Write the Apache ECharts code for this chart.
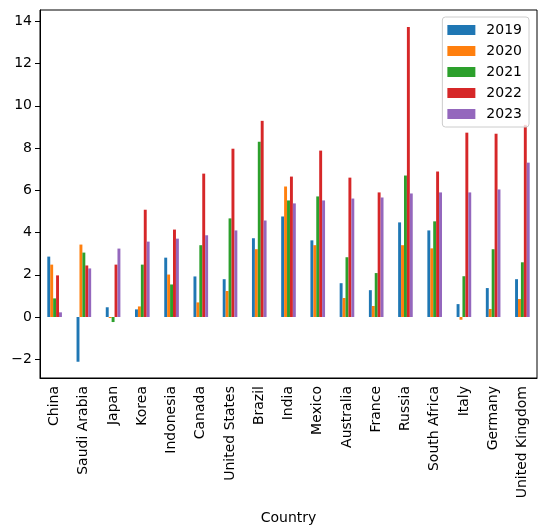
<!DOCTYPE html>
<html>
<head>
<meta charset="utf-8">
<script src="https://cdn.jsdelivr.net/npm/echarts@6/dist/echarts.min.js"></script>
<style>
  html, body { margin: 0; padding: 0; background: #fff; }
  #chart { width: 546px; height: 530px; }
</style>
</head>
<body>
<div id="chart"></div>
<script>
// inflation by country, one array per year
var countries = ['China', 'Saudi Arabia', 'Japan', 'Korea', 'Indonesia', 'Canada', 'United States',
    'Brazil', 'India', 'Mexico', 'Australia', 'France', 'Russia', 'South Africa', 'Italy',
    'Germany', 'United Kingdom'];
var years = ['2019', '2020', '2021', '2022', '2023'];

var v2019 = [2.86, -2.12, 0.46, 0.36, 2.81, 1.92, 1.79, 3.73, 4.76, 3.63, 1.60, 1.27, 4.48, 4.10, 0.61, 1.37, 1.79];
var v2020 = [2.48, 3.43, -0.05, 0.50, 2.01, 0.69, 1.23, 3.21, 6.18, 3.40, 0.90, 0.52, 3.40, 3.25, -0.13, 0.38, 0.85];
var v2021 = [0.88, 3.05, -0.24, 2.48, 1.54, 3.40, 4.67, 8.30, 5.52, 5.71, 2.83, 2.08, 6.70, 4.53, 1.93, 3.21, 2.59];
var v2022 = [1.97, 2.44, 2.48, 5.08, 4.14, 6.79, 7.97, 9.29, 6.65, 7.88, 6.60, 5.90, 13.73, 6.89, 8.73, 8.68, 9.10];
var v2023 = [0.22, 2.30, 3.24, 3.57, 3.71, 3.87, 4.10, 4.57, 5.38, 5.52, 5.61, 5.66, 5.85, 5.90, 5.90, 6.04, 7.31];

var yTicks = [-2, 0, 2, 4, 6, 8, 10, 12, 14];
var colors = ['#1f77b4', '#ff7f0e', '#2ca02c', '#d62728', '#9467bd'];

var allValues = [v2019, v2020, v2021, v2022, v2023];
var font = 'DejaVu Sans';

var myChart = echarts.init(document.getElementById('chart'));

var series = years.map(function (y, i) {
    return {
        name: y,
        type: 'bar',
        data: allValues[i],
        barWidth: '10%',
        barGap: '0%',
        itemStyle: { color: colors[i] },
        emphasis: { disabled: true }
    };
});

var option = {
    animation: false,
    textStyle: { fontFamily: font },
    grid: {
        left: 40, top: 10, right: 9, bottom: 151,
        show: true, borderColor: '#000', borderWidth: 1
    },
    legend: {
        data: years,
        orient: 'vertical',
        right: 17,
        top: 17,
        itemWidth: 28,
        itemHeight: 10,
        itemGap: 7,
        padding: [6, 7, 6, 5],
        backgroundColor: 'rgba(255,255,255,0.8)',
        borderColor: '#cccccc',
        borderWidth: 1,
        borderRadius: 3,
        icon: 'rect',
        textStyle: { fontSize: 14, color: '#000', fontFamily: font, padding: [0, 0, 0, 6] }
    },
    xAxis: {
        type: 'category',
        data: countries,
        name: 'Country',
        nameLocation: 'middle',
        nameGap: 133,
        nameTextStyle: { fontSize: 14, color: '#000', fontFamily: font },
        axisLine: { onZero: false, lineStyle: { color: '#000' } },
        axisTick: { alignWithLabel: true, length: 5, lineStyle: { color: '#000' } },
        axisLabel: { rotate: 90, fontSize: 14, color: '#000', interval: 0, margin: 8, fontFamily: font },
        splitLine: { show: false }
    },
    yAxis: {
        type: 'value',
        min: -2.89,
        max: 14.54,
        axisLine: { show: true, lineStyle: { color: '#000' } },
        axisTick: { show: true, length: 5, customValues: yTicks, lineStyle: { color: '#000' } },
        axisLabel: {
            fontSize: 14, color: '#000', margin: 8, fontFamily: font,
            customValues: yTicks,
            formatter: function (v) { return String(v).replace('-', '\u2212'); }
        },
        splitLine: { show: false }
    },
    series: series
};

myChart.setOption(option);
</script>
</body>
</html>
